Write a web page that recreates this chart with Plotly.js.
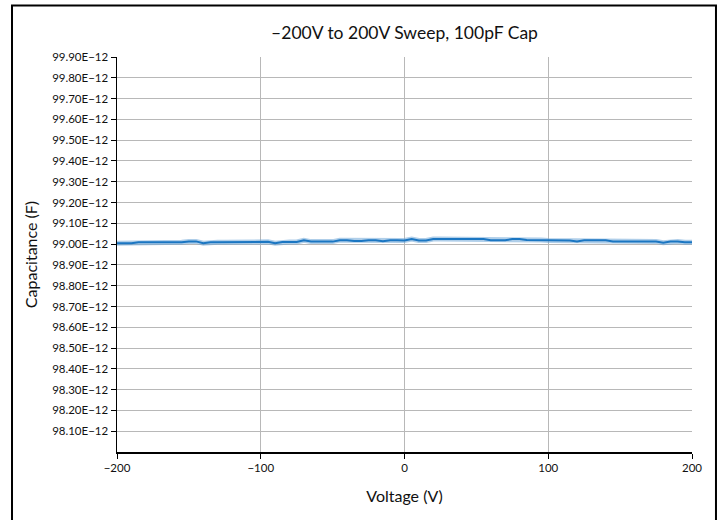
<!DOCTYPE html>
<html>
<head>
<meta charset="utf-8">
<script src="https://cdn.plot.ly/plotly-3.0.1.min.js"></script>
<style>
html, body { margin: 0; padding: 0; background: #fff; }
#chart { width: 723px; height: 520px; }
</style>
</head>
<body>
<div id="chart"></div>
<script>
// Voltage sweep points (V)
const voltage = [
  -200,-195,-190,-185,-180,-175,-170,-165,-160,-155,
  -150,-145,-140,-135,-130,-125,-120,-115,-110,-105,
  -100,-95,-90,-85,-80,-75,-70,-65,-60,-55,
  -50,-45,-40,-35,-30,-25,-20,-15,-10,-5,
  0,5,10,15,20,25,30,35,40,45,
  50,55,60,65,70,75,80,85,90,95,
  100,105,110,115,120,125,130,135,140,145,
  150,155,160,165,170,175,180,185,190,195,
  200
];
// Measured capacitance (F)
const capacitance = [
  99.004e-12,99.004e-12,99.004e-12,99.009e-12,99.009e-12,99.009e-12,99.009e-12,99.009e-12,99.009e-12,99.009e-12,
  99.013e-12,99.013e-12,99.004e-12,99.009e-12,99.009e-12,99.009e-12,99.009e-12,99.009e-12,99.009e-12,99.009e-12,
  99.011e-12,99.011e-12,99.004e-12,99.010e-12,99.010e-12,99.010e-12,99.018e-12,99.012e-12,99.012e-12,99.012e-12,
  99.012e-12,99.019e-12,99.019e-12,99.015e-12,99.015e-12,99.019e-12,99.019e-12,99.014e-12,99.019e-12,99.019e-12,
  99.017e-12,99.024e-12,99.017e-12,99.017e-12,99.024e-12,99.024e-12,99.024e-12,99.024e-12,99.025e-12,99.025e-12,
  99.025e-12,99.025e-12,99.019e-12,99.019e-12,99.019e-12,99.024e-12,99.024e-12,99.020e-12,99.020e-12,99.020e-12,
  99.017e-12,99.017e-12,99.017e-12,99.017e-12,99.013e-12,99.018e-12,99.018e-12,99.018e-12,99.018e-12,99.013e-12,
  99.013e-12,99.013e-12,99.013e-12,99.013e-12,99.013e-12,99.013e-12,99.007e-12,99.013e-12,99.013e-12,99.009e-12,
  99.009e-12
];
// Y-axis ticks
const yTickVals = [
  98.1e-12,98.2e-12,98.3e-12,98.4e-12,98.5e-12,98.6e-12,98.7e-12,98.8e-12,98.9e-12,
  99.0e-12,99.1e-12,99.2e-12,99.3e-12,99.4e-12,99.5e-12,99.6e-12,99.7e-12,99.8e-12,99.9e-12
];
const yTickText = [
  "98.10E\u221212","98.20E\u221212","98.30E\u221212","98.40E\u221212","98.50E\u221212",
  "98.60E\u221212","98.70E\u221212","98.80E\u221212","98.90E\u221212","99.00E\u221212",
  "99.10E\u221212","99.20E\u221212","99.30E\u221212","99.40E\u221212","99.50E\u221212",
  "99.60E\u221212","99.70E\u221212","99.80E\u221212","99.90E\u221212"
];
// X-axis ticks
const xTickVals = [-200, -100, 0, 100, 200];
const xTickText = ["\u2212200", "\u2212100", "0", "100", "200"];

const FONT = "Lato, 'Open Sans', sans-serif";

const traces = [
  {
    x: voltage, y: capacitance, type: "scatter", mode: "lines",
    line: { color: "rgba(110,165,215,0.55)", width: 5 },
    hoverinfo: "skip", showlegend: false
  },
  {
    x: voltage, y: capacitance, type: "scatter", mode: "lines",
    line: { color: "#1b76c2", width: 2 },
    showlegend: false
  }
];

const layout = {
  width: 723, height: 520,
  margin: { l: 117, r: 31, t: 57, b: 68 },
  paper_bgcolor: "#ffffff", plot_bgcolor: "#ffffff",
  font: { family: FONT, color: "#111", size: 11 },
  title: {
    text: "\u2013200V to 200V Sweep, 100pF Cap",
    font: { family: FONT, size: 17.5, color: "#111" },
    xref: "paper", x: 0.5, xanchor: "center",
    yref: "container", y: 1 - 33 / 520, yanchor: "middle"
  },
  xaxis: {
    range: [-200, 200],
    tickvals: xTickVals, ticktext: xTickText,
    showgrid: true, gridcolor: "#b8b8b8", gridwidth: 1,
    zeroline: false,
    showline: true, linecolor: "#000", linewidth: 1.5,
    ticks: "outside", ticklen: 5, tickcolor: "#000", tickwidth: 1,
    tickfont: { family: FONT, size: 11.5, color: "#111" },
    title: { text: "Voltage (V)", font: { family: FONT, size: 16, color: "#111" }, standoff: 17 },
    automargin: false
  },
  yaxis: {
    range: [98.0e-12, 99.9e-12],
    tickvals: yTickVals, ticktext: yTickText,
    showgrid: true, gridcolor: "#b8b8b8", gridwidth: 1,
    zeroline: false,
    showline: true, linecolor: "#000", linewidth: 1.5,
    ticks: "outside", ticklen: 5, tickcolor: "#000", tickwidth: 1,
    tickfont: { family: FONT, size: 11.5, color: "#111" },
    title: { text: "Capacitance (F)", font: { family: FONT, size: 16, color: "#111" }, standoff: 10 },
    automargin: false
  },
  shapes: [
    {
      type: "rect", xref: "paper", yref: "paper",
      x0: -0.1826, x1: 1.0417, y0: -0.2, y1: 1.1304,
      line: { color: "#000", width: 2 }, fillcolor: "rgba(0,0,0,0)",
      layer: "above"
    }
  ],
  showlegend: false
};

Plotly.newPlot("chart", traces, layout, { staticPlot: true, displayModeBar: false });
</script>
</body>
</html>
